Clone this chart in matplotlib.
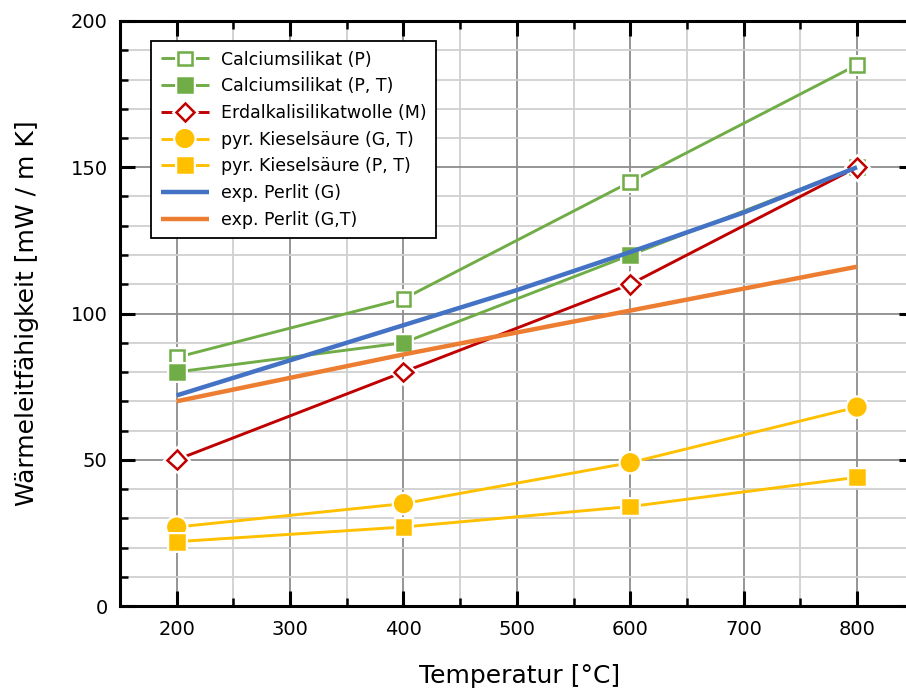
import matplotlib
matplotlib.use("Agg")
import matplotlib.pyplot as plt
import matplotlib.patheffects as pe
from matplotlib.legend_handler import HandlerTuple
from matplotlib.ticker import MultipleLocator

# ---- data ----
temps = [200, 400, 600, 800]
ca_p = [85, 105, 145, 185]
ca_pt = [80, 90, 120, 150]
erdalkali = [50, 80, 110, 150]
kies_gt = [27, 35, 49, 68]
kies_pt = [22, 27, 34, 44]

perlit_temps = [200, 300, 400, 500, 600, 700, 800]
perlit_g = [72, 84, 96, 108, 121, 134.5, 150]
perlit_gt = [70, 78, 86, 93.5, 101, 108.5, 116]

labels = ["Calciumsilikat (P)", "Calciumsilikat (P, T)", "Erdalkalisilikatwolle (M)",
          "pyr. Kieselsäure (G, T)", "pyr. Kieselsäure (P, T)", "exp. Perlit (G)", "exp. Perlit (G,T)"]

GREEN = "#70AD47"
RED = "#C00000"
YELLOW = "#FFC000"
BLUE = "#4472C4"
ORANGE = "#ED7D31"

W, H = 906, 692
fig = plt.figure(figsize=(W / 100, H / 100), dpi=100)
left, right, top, bottom = 120, 913.7, 21, 606
ax = fig.add_axes([left / W, (H - bottom) / H, (right - left) / W, (bottom - top) / H])

ax.set_xlim(150, 850)
ax.set_ylim(0, 200)

halo = [pe.Stroke(linewidth=5, foreground="white"), pe.Normal()]

marker_series = [
    (ca_p, GREEN, "s", 10, "white", labels[0]),
    (ca_pt, GREEN, "s", 10, GREEN, labels[1]),
    (erdalkali, RED, "D", 9.5, "white", labels[2]),
    (kies_gt, YELLOW, "o", 12, YELLOW, labels[3]),
    (kies_pt, YELLOW, "s", 10, YELLOW, labels[4]),
]

handles = []
for vals, col, mk, ms, mfc, lab in marker_series:
    ln, = ax.plot(temps, vals, color=col, lw=2.1, zorder=3, solid_capstyle="butt")
    mkl, = ax.plot(temps, vals, ls="none", marker=mk, ms=ms, mfc=mfc, mec=col,
                   mew=1.8, zorder=4, path_effects=halo)
    handles.append((ln, mkl))

lb, = ax.plot(perlit_temps, perlit_g, color=BLUE, lw=3.2, zorder=5, solid_capstyle="butt")
lo, = ax.plot(perlit_temps, perlit_gt, color=ORANGE, lw=3.2, zorder=5, solid_capstyle="butt")
handles.append(lb)
handles.append(lo)

# grid
ax.xaxis.set_major_locator(MultipleLocator(100))
ax.xaxis.set_minor_locator(MultipleLocator(50))
ax.yaxis.set_major_locator(MultipleLocator(50))
ax.yaxis.set_minor_locator(MultipleLocator(10))
ax.grid(which="major", color="#8c8c8c", lw=1.3, zorder=0)
ax.grid(which="minor", color="#d0d0d0", lw=1.3, zorder=0)
ax.set_axisbelow(True)

for s in ax.spines.values():
    s.set_linewidth(2.2)
    s.set_color("black")

ax.tick_params(which="major", direction="in", length=11, width=2.2, top=True, right=True,
               labelsize=14, pad=10, colors="black")
ax.tick_params(which="minor", direction="in", length=6, width=1.8, top=True, right=True)
ax.tick_params(axis="y", which="major", pad=9)

ax.set_xlabel("Temperatur [°C]", fontsize=18)
ax.set_ylabel("Wärmeleitfähigkeit [mW / m K]", fontsize=18)
ax.xaxis.set_label_coords(0.504, -0.1)
ax.yaxis.set_label_coords(-0.102, 0.5)

leg = ax.legend(handles=handles, labels=labels, loc="upper left",
                bbox_to_anchor=((151 - left) / (right - left), (bottom - 41) / (bottom - top)),
                borderaxespad=0, fontsize=12.5, frameon=True, fancybox=False,
                edgecolor="black", framealpha=1, handlelength=2.8, handletextpad=0.7,
                labelspacing=0.5, borderpad=0.55, numpoints=1,
                handler_map={tuple: HandlerTuple(ndivide=1, pad=0)})
leg.get_frame().set_linewidth(1.3)
leg.set_zorder(10)

fig.savefig("out.png", dpi=100)
